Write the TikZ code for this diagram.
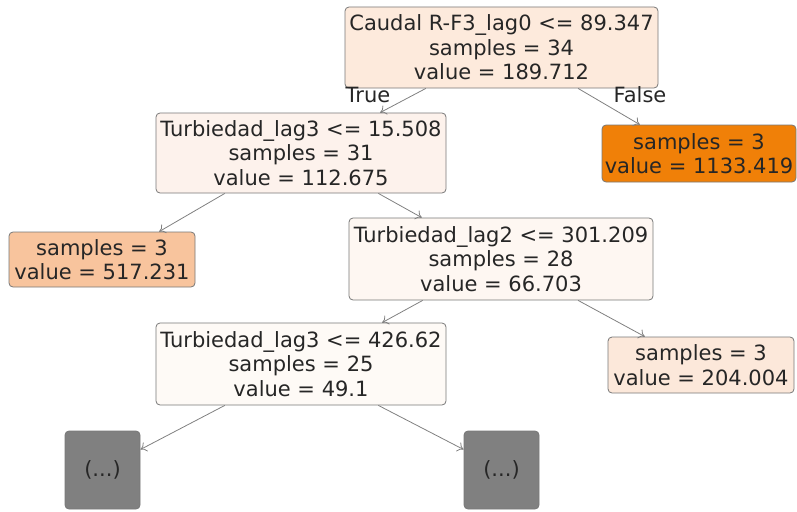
\documentclass[tikz,border=0pt]{standalone}
\usepackage{fontspec}
\setmainfont{DejaVu Sans}
\usetikzlibrary{arrows.meta,calc}
\definecolor{c0}{RGB}{253,234,220}
\definecolor{c1}{RGB}{253,242,236}
\definecolor{c2}{RGB}{254,247,242}
\definecolor{c3}{RGB}{254,250,246}
\definecolor{corange}{RGB}{240,128,8}
\definecolor{cl517}{RGB}{248,196,157}
\definecolor{cl204}{RGB}{252,232,218}
\definecolor{cgray}{RGB}{128,128,128}
\definecolor{edgec}{RGB}{120,120,120}
\tikzset{
  tnode/.style={draw=edgec, line width=0.8pt, rounded corners=4pt, align=center,
    inner sep=0pt, font=\fontsize{21}{24.5}\selectfont, text=black!85},
  conn/.style={draw=cgray, line width=0.8pt, -{To[length=6pt,width=10pt]}},
  lbl/.style={font=\fontsize{21}{24}\selectfont, text=black!85, inner sep=0pt}
}
\begin{document}
\begin{tikzpicture}[x=1pt,y=-1pt]
\useasboundingbox (0,0) rectangle (797,511);
\node[tnode, fill=c0, minimum width=313pt, minimum height=81pt] (root) at (501.5,47.5)
  {Caudal R-F3\_lag0 <= 89.347\\samples = 34\\value = 189.712};
\node[tnode, fill=c1, minimum width=290pt, minimum height=80pt] (l1) at (301,153)
  {Turbiedad\_lag3 <= 15.508\\samples = 31\\value = 112.675};
\node[tnode, fill=corange, minimum width=194pt, minimum height=57pt] (r1) at (699,153.5)
  {samples = 3\\value = 1133.419};
\node[tnode, fill=cl517, minimum width=186pt, minimum height=55pt] (a) at (102,259.5)
  {samples = 3\\value = 517.231};
\node[tnode, fill=c2, minimum width=304pt, minimum height=82pt] (t2) at (501,259)
  {Turbiedad\_lag2 <= 301.209\\samples = 28\\value = 66.703};
\node[tnode, fill=cl204, minimum width=186pt, minimum height=56pt] (b) at (701,365)
  {samples = 3\\value = 204.004};
\node[tnode, fill=c3, minimum width=290pt, minimum height=82pt] (t3) at (301,364)
  {Turbiedad\_lag3 <= 426.62\\samples = 25\\value = 49.1};
\node[tnode, fill=cgray, minimum width=75pt, minimum height=78pt] (g1) at (102.5,470) {(...)};
\node[tnode, fill=cgray, minimum width=75pt, minimum height=78pt] (g2) at (501.5,470) {(...)};

\draw[conn] ($(root.south west)!0.259!(root.south east)$) -- ($(l1.north west)!0.772!(l1.north east)$);
\draw[conn] ($(root.south west)!0.744!(root.south east)$) -- ($(r1.north west)!0.196!(r1.north east)$);
\draw[conn] ($(l1.south west)!0.238!(l1.south east)$) -- ($(a.north west)!0.806!(a.north east)$);
\draw[conn] ($(l1.south west)!0.766!(l1.south east)$) -- ($(t2.north west)!0.24!(t2.north east)$);
\draw[conn] ($(t2.south west)!0.243!(t2.south east)$) -- ($(t3.north west)!0.779!(t3.north east)$);
\draw[conn] ($(t2.south west)!0.753!(t2.south east)$) -- ($(b.north west)!0.199!(b.north east)$);
\draw[conn] ($(t3.south west)!0.238!(t3.south east)$) -- ($(g1.north east)!0.24!(g1.south east)$);
\draw[conn] ($(t3.south west)!0.766!(t3.south east)$) -- ($(g2.north west)!0.24!(g2.south west)$);

\node[lbl] (true) at (368,95) {True};
\node[lbl] (false) at (640,95) {False};
\end{tikzpicture}
\end{document}
